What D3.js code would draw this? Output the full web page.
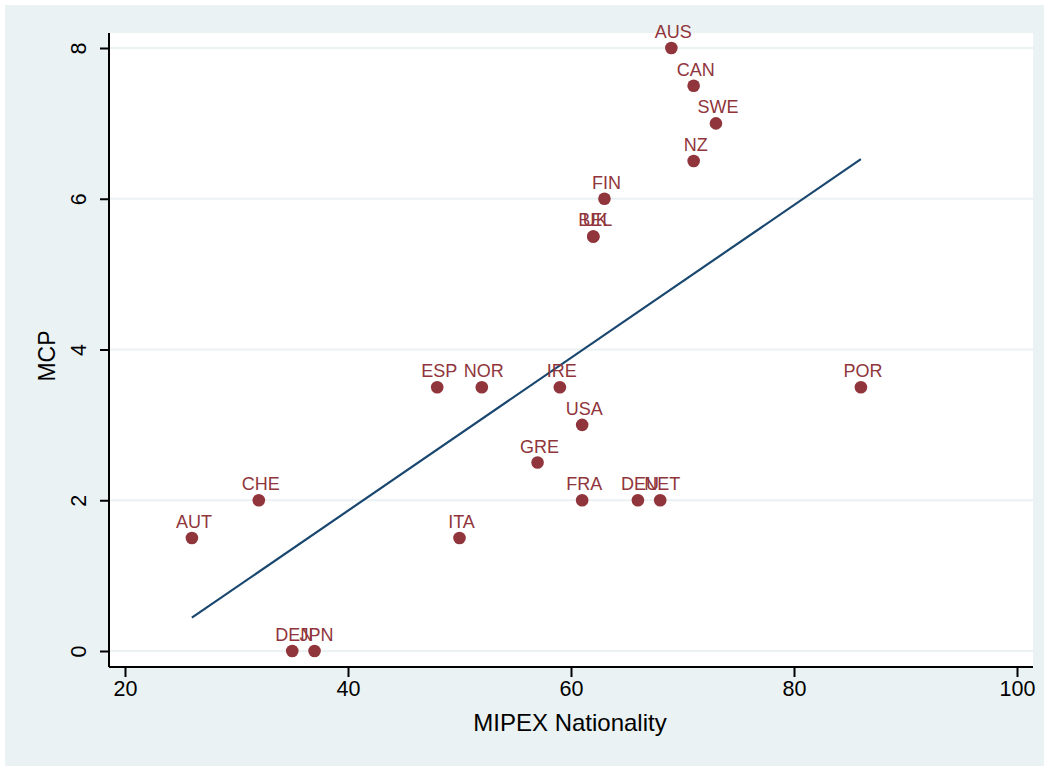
<!DOCTYPE html>
<html>
<head>
<meta charset="utf-8">
<script src="https://cdn.jsdelivr.net/npm/d3@7"></script>
<style>
  body { margin: 0; background: #fff; }
  text { font-family: "Liberation Sans", Arial, sans-serif; }
</style>
</head>
<body>
<svg width="1049" height="771"></svg>
<script>
// country codes, MIPEX nationality score, MCP index
var countries = ["AUS","CAN","SWE","NZ","FIN","BEL","UK","ESP","NOR","IRE","POR","USA","GRE","FRA","DEU","NET","CHE","AUT","ITA","DEN","JPN"];
var mipex = [69,71,73,71,63,62,62,48,52,59,86,61,57,61,66,68,32,26,50,35,37];
var mcp = [8,7.5,7,6.5,6,5.5,5.5,3.5,3.5,3.5,3.5,3,2.5,2,2,2,2,1.5,1.5,0,0];
var xTicks = [20,40,60,80,100];
var yTicks = [0,2,4,6,8];

var data = countries.map(function(c, i){ return {name: c, x: mipex[i], y: mcp[i]}; });

var svg = d3.select("svg");

// outer graph region
svg.append("rect").attr("x", 5).attr("y", 5).attr("width", 1039).attr("height", 761)
    .attr("fill", "#eaf2f3");

var margin = {top: 33, right: 16, bottom: 104, left: 109},
    width = 1049 - margin.left - margin.right,
    height = 771 - margin.top - margin.bottom;

var g = svg.append("g")
    .attr("transform", "translate(" + margin.left + "," + margin.top + ")");

g.append("rect").attr("width", width).attr("height", height).attr("fill", "#fff");

var x = d3.scaleLinear().domain([20, 100]).range([125 - margin.left, 1017 - margin.left]);
var y = d3.scaleLinear().domain([0, 8]).range([651 - margin.top, 48 - margin.top]);

// gridlines
g.selectAll(".grid").data(yTicks).enter().append("line")
    .attr("x1", 0).attr("x2", width)
    .attr("y1", function(d){return y(d);}).attr("y2", function(d){return y(d);})
    .attr("stroke", "#eaf2f3").attr("stroke-width", 2);

// axes
var xAxis = g.append("g")
    .attr("transform", "translate(0," + height + ")")
    .call(d3.axisBottom(x).tickValues(xTicks).tickSize(10).tickPadding(4));
xAxis.select(".domain").attr("d", "M0,0H" + width).attr("stroke-width", 2);
xAxis.selectAll(".tick line").attr("stroke-width", 2);
xAxis.selectAll("text").attr("font-size", 21.5).attr("fill", "#000")
    .attr("font-family", "Liberation Sans, Arial, sans-serif");

var yAxis = g.append("g")
    .call(d3.axisLeft(y).tickValues(yTicks).tickSize(9));
yAxis.select(".domain").attr("d", "M0,0V" + height).attr("stroke-width", 2);
yAxis.selectAll(".tick line").attr("stroke-width", 2);
yAxis.selectAll(".tick text")
    .attr("font-size", 21.5).attr("fill", "#000")
    .attr("font-family", "Liberation Sans, Arial, sans-serif")
    .attr("text-anchor", "middle")
    .attr("transform", "translate(-31,0) rotate(-90)")
    .attr("x", 0).attr("y", 0).attr("dy", "0.35em");

// fitted values line (OLS)
var mx = d3.mean(mipex), my = d3.mean(mcp);
var sxy = d3.sum(mipex, function(v, i){ return (v - mx) * (mcp[i] - my); });
var sxx = d3.sum(mipex, function(v){ return (v - mx) * (v - mx); });
var b = sxy / sxx, a = my - b * mx;
var fit = d3.extent(mipex).map(function(v){ return {x: v, y: a + b * v}; });

g.append("path")
    .attr("d", d3.line().x(function(d){return x(d.x);}).y(function(d){return y(d.y);})(fit))
    .attr("fill", "none").attr("stroke", "#1a476f").attr("stroke-width", 2.2);

// points and labels
g.selectAll(".pt").data(data).enter().append("circle")
    .attr("cx", function(d){return x(d.x);})
    .attr("cy", function(d){return y(d.y);})
    .attr("r", 6.3).attr("fill", "#90353b");

g.selectAll(".lbl").data(data).enter().append("text")
    .attr("x", function(d){return x(d.x) + 2;})
    .attr("y", function(d){return y(d.y) - 10;})
    .attr("text-anchor", "middle")
    .attr("font-size", 18).attr("fill", "#90353b")
    .text(function(d){return d.name;});

// axis titles
svg.append("text").attr("x", 570).attr("y", 731).attr("text-anchor", "middle")
    .attr("font-size", 24).text("MIPEX Nationality");
svg.append("text").attr("transform", "translate(55,356) rotate(-90)")
    .attr("text-anchor", "middle").attr("font-size", 23).text("MCP");
</script>
</body>
</html>
